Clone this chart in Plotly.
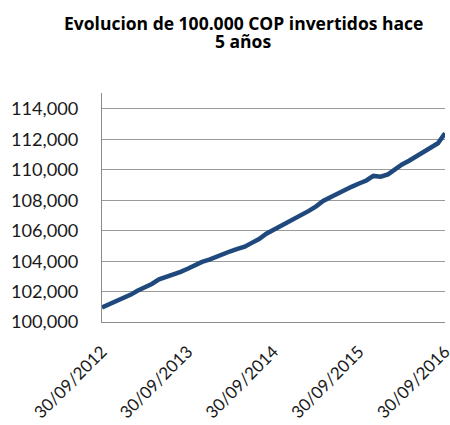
import plotly.graph_objects as go
import pandas as pd

dates = pd.date_range("2012-09-30", "2016-09-30", freq="ME").strftime("%Y-%m-%d").tolist()
values = [100950, 101150, 101350, 101550, 101800, 102050, 102250, 102500, 102800, 102950,
          103100, 103300, 103500, 103750, 103950, 104100, 104300, 104500, 104650, 104800,
          104950, 105200, 105450, 105800, 106050, 106300, 106550, 106750, 107000, 107300,
          107600, 107950, 108200, 108450, 108700, 108900, 109100, 109300, 109600, 109550,
          109700, 110050, 110350, 110600, 110900, 111200, 111500, 111750, 112400]
tick_dates = ["2012-09-30", "2013-09-30", "2014-09-30", "2015-09-30", "2016-09-30"]
tick_labels = ["30/09/2012", "30/09/2013", "30/09/2014", "30/09/2015", "30/09/2016"]
y_ticks = [100000, 102000, 104000, 106000, 108000, 110000, 112000, 114000]
title_lines = ["Evolucion de 100.000 COP invertidos hace", "5 años"]

W, H = 450, 425
L, R, T, B = 102, 5, 93, 103
pw, ph = W - L - R, H - T - B

fig = go.Figure()
fig.add_trace(go.Scatter(x=dates, y=values, mode="lines",
                         line=dict(color="#1F497D", width=4.5), hoverinfo="skip",
                         cliponaxis=False))

anns = []
for txt, (px, py) in zip(title_lines, [(243, 23.5), (243, 41)]):
    anns.append(dict(text="<b>" + txt + "</b>", x=(px - L) / pw, y=(H - B - py) / ph,
                     xref="paper", yref="paper", xanchor="center", yanchor="middle",
                     showarrow=False, font=dict(family="Open Sans", size=17.5, color="black")))

fig.update_layout(
    width=W, height=H,
    margin=dict(l=L, r=R, t=T, b=B, autoexpand=False),
    paper_bgcolor="white", plot_bgcolor="white",
    showlegend=False,
    font=dict(family="Lato", color="#1a1a1a"),
    annotations=anns,
)

fig.update_xaxes(
    type="date", range=["2012-09-29 23:00", "2016-09-30 01:00"],
    tickvals=tick_dates, ticktext=tick_labels, tickangle=-45,
    tickfont=dict(size=17, color="#1a1a1a"), ticklabeloverflow="allow",
    showgrid=False, showline=True, linecolor="#8c8c8c", linewidth=1,
    ticks="", zeroline=False, automargin=False, ticklabelstandoff=12,
)
fig.update_yaxes(
    range=[100000, 115050], tickvals=y_ticks, tickformat=",d",
    tickfont=dict(size=18.2, color="#1a1a1a"), ticklabeloverflow="allow",
    showgrid=True, gridcolor="#9a9a9a", gridwidth=1,
    showline=True, linecolor="#8c8c8c", linewidth=1,
    ticks="", zeroline=False, automargin=False, ticklabelstandoff=19,
)

fig.write_html(
    "out.html",
    config={"displayModeBar": False},
    post_script="document.body.style.margin='0';document.body.style.overflow='hidden';",
)
